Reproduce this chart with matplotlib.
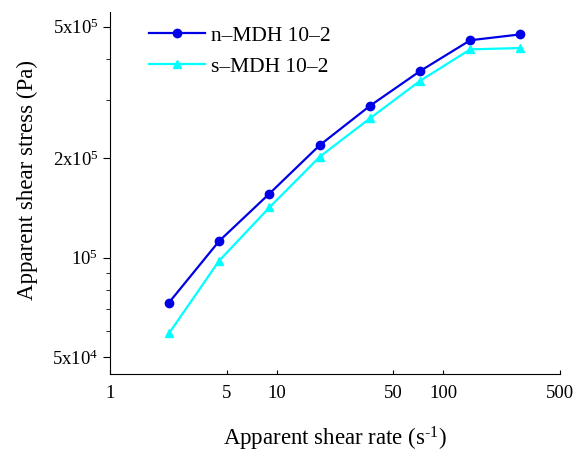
import matplotlib
matplotlib.use("Agg")
import matplotlib.pyplot as plt
from matplotlib.ticker import FixedLocator, NullFormatter

plt.rcParams['font.family'] = ['Liberation Serif', 'DejaVu Serif']
plt.rcParams['mathtext.fontset'] = 'custom'
plt.rcParams['mathtext.rm'] = 'Liberation Serif'
plt.rcParams['mathtext.it'] = 'Liberation Serif:italic'

# shear rate (1/s)
shear_rate = [2.26, 4.52, 9.04, 18.1, 36.2, 72.4, 144.8, 289.6]
# apparent shear stress (Pa)
n_mdh = [7.32e4, 1.124e5, 1.563e5, 2.19e5, 2.88e5, 3.67e5, 4.55e5, 4.74e5]
s_mdh = [5.91e4, 9.80e4, 1.42e5, 2.02e5, 2.64e5, 3.43e5, 4.27e5, 4.31e5]

x_ticks = [1, 5, 10, 50, 100, 500]
x_tick_labels = ['1', '5', '10', '50', '100', '500']
y_ticks = [5e4, 1e5, 2e5, 5e5]
y_tick_labels = [r'5x10$^4$', r'10$^5$', r'2x10$^5$', r'5x10$^5$']
y_minor = [6e4, 7e4, 8e4, 9e4, 3e5, 4e5]

fig = plt.figure(figsize=(5.74, 4.51), dpi=100)
ax = fig.add_axes([0.1916, 0.1707, 0.7840, 0.8033])

ax.plot(shear_rate, n_mdh, color='#0000e6', marker='o', markersize=6,
        linewidth=1.6, label='n\u2013MDH 10\u20132')
ax.plot(shear_rate, s_mdh, color='#00ffff', marker='^', markersize=6,
        linewidth=1.6, label='s\u2013MDH 10\u20132')

ax.set_xscale('log')
ax.set_yscale('log')
ax.set_xlim(1, 500)
ax.set_ylim(4.45e4, 5.55e5)

ax.xaxis.set_major_locator(FixedLocator(x_ticks))
ax.set_xticklabels(x_tick_labels)
ax.xaxis.set_minor_locator(FixedLocator([]))
ax.yaxis.set_major_locator(FixedLocator(y_ticks))
ax.set_yticklabels(y_tick_labels)
ax.yaxis.set_minor_locator(FixedLocator(y_minor))
ax.yaxis.set_minor_formatter(NullFormatter())

ax.tick_params(axis='x', which='major', direction='in', length=3, labelsize=13.5, pad=8)
ax.tick_params(axis='y', which='major', direction='out', length=5, labelsize=13.5)
ax.tick_params(axis='y', which='minor', direction='out', length=3)

for side in ['top', 'right']:
    ax.spines[side].set_visible(False)

ax.set_xlabel(r'Apparent shear rate (s$^{\text{-}1}$)', fontsize=16.5, labelpad=16)
ax.set_ylabel('Apparent shear stress (Pa)', fontsize=16.5)
ax.yaxis.set_label_coords(-0.16, 0.535)

ax.legend(loc='upper left', bbox_to_anchor=(0.043, 1.015), frameon=False,
          fontsize=15.5, handlelength=2.6, handletextpad=0.3, labelspacing=0.5)

fig.savefig('out.png', dpi=100)
